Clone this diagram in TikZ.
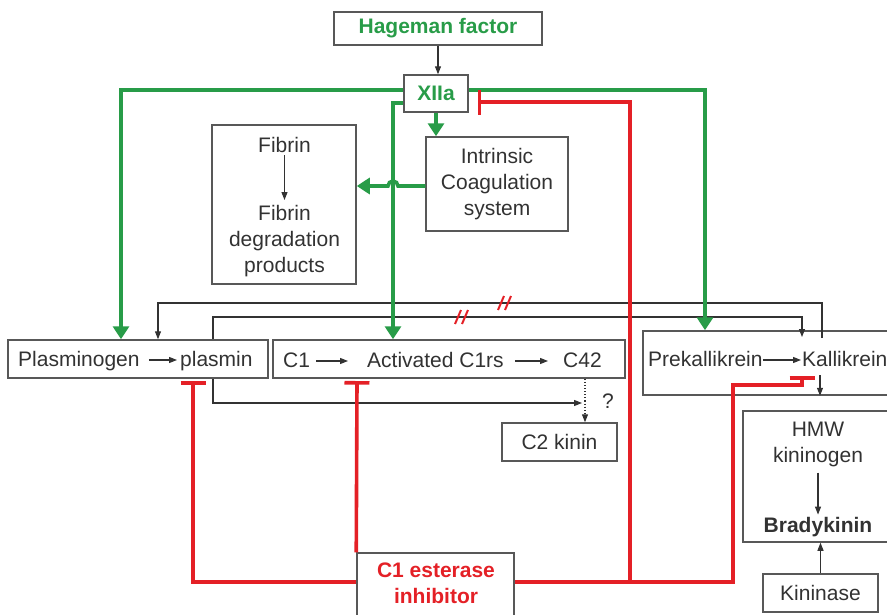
\documentclass[tikz,border=0pt]{standalone}
\usepackage{fontspec}
\setmainfont{Liberation Sans}
\usetikzlibrary{arrows.meta}
\definecolor{grn}{RGB}{40,156,72}
\definecolor{rd}{RGB}{228,32,38}
\definecolor{ink}{RGB}{50,50,50}
\definecolor{frame}{RGB}{88,88,88}
\newcommand\dfont{\fontsize{21}{26}\selectfont}
\begin{document}
\begin{tikzpicture}[x=1pt,y=-1pt,line join=miter,
  box/.style={draw=frame,line width=1.5pt,inner sep=0pt,text=ink,align=center,font=\dfont},
  frame box/.style={draw=frame,line width=1.5pt,inner sep=0pt},
  lbl/.style={inner sep=0pt,text=ink,align=center,font=\dfont},
  thin/.style={draw=ink,line width=1.1pt,-{Triangle[width=6pt,length=8pt]}},
  act/.style={draw=grn,line width=3.6pt,-{Triangle[width=16pt,length=13pt]}},
  inh/.style={draw=rd,line width=3.6pt,-{Bar[width=25pt]}},
  hatch/.style={draw=rd,line width=2pt}]
\useasboundingbox (0,0) rectangle (887,614);
\clip (0,0) rectangle (887,614);

% --- boxes ---
\node[box,minimum width=208pt,minimum height=33pt,text=grn,font=\dfont\bfseries] (hag) at (438,28.5) {Hageman factor};
\node[box,minimum width=64pt,minimum height=37pt,text=grn,font=\dfont\bfseries] (xiia) at (436,93.5) {XIIa};
\node[box,minimum width=142pt,minimum height=94pt] (intr) at (497,184) {Intrinsic\\Coagulation\\system};
\node[frame box,minimum width=144pt,minimum height=159pt] (fibbox) at (284,204.5) {};
\node[frame box,minimum width=260pt,minimum height=38pt] (plas) at (138,359) {};
\node[frame box,minimum width=352pt,minimum height=38pt] (c1) at (449,359) {};
\node[frame box,minimum width=262pt,minimum height=64pt] (prek) at (774,363) {};
\node[box,minimum width=115pt,minimum height=38pt] (c2) at (559.5,442) {C2 kinin};
\node[frame box,minimum width=162pt,minimum height=131pt] (hmw) at (824,476.5) {};
\node[box,minimum width=115pt,minimum height=38pt] (kin) at (820.5,593) {Kininase};
\node[frame box,minimum width=157pt,minimum height=72pt] (c1e) at (435.5,589) {};

% --- labels inside the boxes ---
\node[lbl,anchor=base] (fib1) at (284.5,152) {Fibrin};
\node[lbl] (fdp) at (284.5,241) {Fibrin\\degradation\\products};
\node[lbl,anchor=base west] (plg) at (18,366) {Plasminogen};
\node[lbl,anchor=base west] (plm) at (180,366) {plasmin};
\node[lbl,anchor=base west] (c1t) at (283,367) {C1};
\node[lbl,anchor=base west] (c1r) at (367,367) {Activated C1rs};
\node[lbl,anchor=base west] (c42) at (563,367) {C42};
\node[lbl,anchor=base west] (pk) at (648,366) {Prekallikrein};
\node[lbl,anchor=base west] (kal) at (802,366) {Kallikrein};
\node[lbl,anchor=base] (qm) at (608,408) {?};
\node[lbl] (hmwt) at (818,444) {HMW\\kininogen};
\node[lbl,anchor=base,font=\dfont\bfseries] (brady) at (818,532) {Bradykinin};
\node[lbl,text=rd,font=\dfont\bfseries] (c1et) at (436,583) {C1 esterase\\inhibitor};

% --- named free ends ---
\coordinate (kup) at (822,338);
\coordinate (kdn) at (802,337);
\coordinate (meet) at (582,403);
\coordinate (jn) at (630,582);

% --- thin grey conversions ---
\draw[thin] (hag.south) -- (hag.south |- xiia.north);
\draw[thin,shorten <=3pt,shorten >=5pt] (fib1.south) -- (fib1.south |- fdp.north);
\draw[thin,shorten <=9pt,shorten >=3pt] ([yshift=6pt]plg.base east) -- ([yshift=6pt]plm.base west);
\draw[thin,shorten <=6pt,shorten >=19pt] ([yshift=6pt]c1t.base east) -- ([yshift=6pt]c1t.base east -| c1r.base west);
\draw[thin,shorten <=11pt,shorten >=15pt] ([yshift=6pt]c1r.base east) -- ([yshift=6pt]c1r.base east -| c42.base west);
\draw[thin,shorten >=1pt] ([yshift=6pt]pk.base east) -- ([yshift=6pt]pk.base east -| kal.base west);
\draw[thin] (kup) |- (158,303) -- (158,0 |- plas.north);
\draw[thin] (213,0 |- plas.north) |- (802,317) -- (kdn);
\draw[thin] (213,0 |- plas.south) |- (meet);
\draw[thin,dotted] (585,0 |- c1.south) -- (585,0 |- c2.north);
\draw[thin,shorten <=9pt] (820,0 |- kal.south) -- (820,0 |- prek.south);
\draw[thin,shorten <=6pt,shorten >=2pt] (hmwt.south) -- (hmwt.south |- brady.north);
\draw[thin] (kin.north) -- (kin.north |- hmw.south);

% --- red breaks on the two feedback lines ---
\draw[hatch] (455,324) -- (461,310) (462,324) -- (468,310);
\draw[hatch] (498,310) -- (504,296) (505,310) -- (511,296);

% --- green activation paths from XIIa ---
\draw[act] ([yshift=3.5pt]xiia.west) -| (121,0 |- plas.north);
\draw[act] ([yshift=3.5pt]xiia.east) -| (705,0 |- prek.north);
\draw[act] (xiia.south) -- (xiia.south |- intr.north);
\draw[act] ([yshift=-9.5pt]xiia.west) -| (393,0 |- c1.north);
\draw[act] (intr.west |- 0,186) -- (398,186) arc[start angle=0,end angle=180,radius=5pt] -- (fibbox.east |- 0,186);

% --- red inhibition paths from C1 esterase inhibitor ---
\draw[inh] (jn) |- ([xshift=9pt,yshift=-8.5pt]xiia.east);
\draw[inh] ([yshift=7pt]c1e.west) -| (193,381);
\draw[inh] (c1e.north west) -- (357,381);
\draw[inh] ([yshift=7pt]c1e.east) -| (733,385) -| (802,376);
\end{tikzpicture}
\end{document}
